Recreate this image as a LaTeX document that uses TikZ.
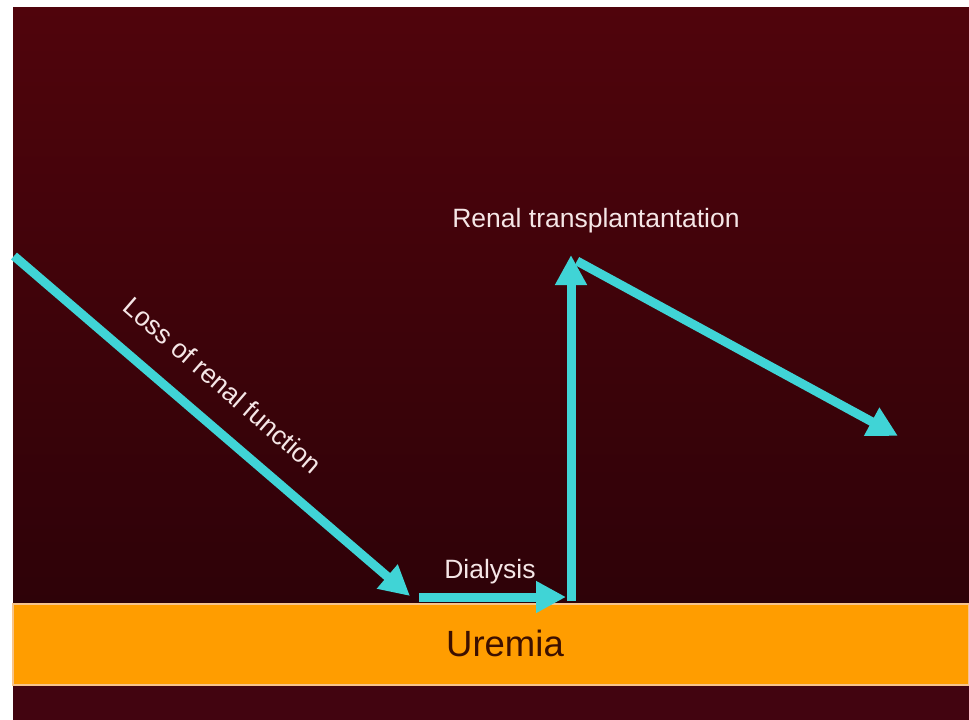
\documentclass[tikz,border=0pt]{standalone}
\usepackage{fontspec}
\setmainfont{Liberation Sans}
\usetikzlibrary{arrows.meta}
\definecolor{bgtop}{RGB}{80,4,12}
\definecolor{bgbot}{RGB}{46,2,8}
\definecolor{bgstrip}{RGB}{66,4,16}
\definecolor{courseline}{RGB}{64,212,214}
\definecolor{uremiaband}{RGB}{255,157,0}
\definecolor{bandedge}{RGB}{246,196,140}
\definecolor{labeltext}{RGB}{245,230,230}
\definecolor{uremiatext}{RGB}{60,16,0}

\begin{document}
\begin{tikzpicture}[x=1pt,y=-1pt]
\tikzset{
	course/.style = {draw=courseline, line width=9pt, -{Triangle[length=30pt,width=30pt]}},
	caption/.style = {text=labeltext, inner sep=0pt, font=\fontsize{26.5}{32}\selectfont},
	bandlabel/.style = {text=uremiatext, inner sep=0pt, font=\fontsize{36.5}{44}\selectfont}
}

\useasboundingbox (0,0) rectangle (969,720);
\fill[white] (0,0) rectangle (969,720);
\shade[top color=bgtop, bottom color=bgbot] (13,7) rectangle (969,603);
\fill[bgstrip] (13,603) rectangle (969,720);
\fill[uremiaband, draw=bandedge, line width=2pt] (13,604) rectangle (969,685);

\node(uremia) [bandlabel] at (505,643) {Uremia};
\node(dialysis) [caption] at (490,572) {Dialysis};
\node(transplant) [caption] at (596,221) {Renal transplantantation};
\node(loss) [caption, rotate=-41] at (223,385) {Loss of renal function};

\coordinate (onset) at (14,256);
\coordinate (low) at (410,596);
\coordinate (dialstart) at (419,597);
\coordinate (dialend) at (566,597);
\coordinate (corner) at (571,601);
\coordinate (graft) at (571,255);
\coordinate (graftstart) at (577,261);
\coordinate (decline) at (898,436);

\draw [course] (onset) -- (low);
\draw [course] (dialstart) -- (dialend);
\draw [course] (corner) -- (graft);
\draw [course] (graftstart) -- (decline);
\end{tikzpicture}
\end{document}
